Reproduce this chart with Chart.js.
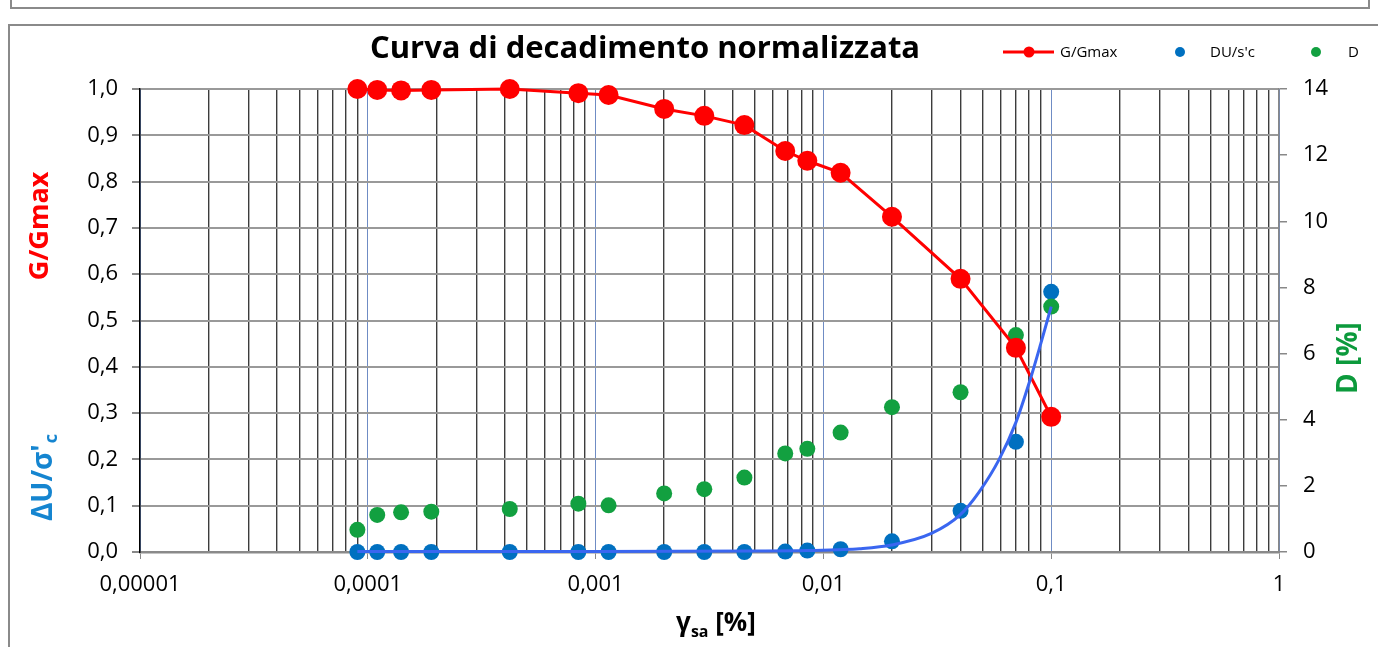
<!DOCTYPE html>
<html><head><meta charset="utf-8">
<script src="https://cdn.jsdelivr.net/npm/chart.js@4.4.1/dist/chart.umd.min.js"></script>
<style>html,body{margin:0;padding:0;background:#fff;overflow:hidden}#wrap{width:1378px;height:647px}</style>
</head><body><div id="wrap"><canvas id="c" width="1378" height="647"></canvas></div>
<script>
// ---- data ----
const gamma  = [0.00009,0.00011,0.00014,0.00019,0.00042,0.00084,0.00114,0.002,0.003,0.0045,0.0068,0.0085,0.0119,0.02,0.04,0.07,0.1];
const gGmax  = [1.000,0.998,0.997,0.998,1.000,0.991,0.987,0.957,0.942,0.922,0.866,0.845,0.819,0.724,0.590,0.441,0.292];
const duSc   = [0,0,0,0,0,0,0,0,0,0,0.001,0.003,0.006,0.023,0.089,0.238,0.562];
const dampD  = [0.67,1.12,1.20,1.22,1.30,1.46,1.41,1.77,1.90,2.25,2.98,3.12,3.61,4.38,4.83,6.56,7.42];
const fitX   = [0.00009,0.001,0.005,0.0085,0.0117,0.0144,0.0199,0.0298,0.0398,0.0483,0.0591,0.070,0.0807,0.090,0.1];
const fitY   = [0.001,0.001,0.002,0.003,0.005,0.007,0.015,0.040,0.080,0.130,0.200,0.280,0.371,0.450,0.530];
const xTickValues = [0.00001,0.0001,0.001,0.01,0.1,1];
const xTickLabels = ['0,00001','0,0001','0,001','0,01','0,1','1'];
const yTickLabels = ['0,0','0,1','0,2','0,3','0,4','0,5','0,6','0,7','0,8','0,9','1,0'];
const dTickLabels = ['0','2','4','6','8','10','12','14'];
const legendLabels = ['G/Gmax',"DU/s'c",'D'];
const titleText = 'Curva di decadimento normalizzata';

// gridline positions for the log axis (1..9 per decade)
const xGrid = [];
for (let d = 0; d < xTickValues.length - 1; d++) {
  for (let m = 1; m <= 9; m++) xGrid.push(m * xTickValues[d]);
}
xGrid.push(xTickValues[xTickValues.length - 1]);
const isDecade = v => xTickValues.some(t => Math.abs(Math.log10(t) - Math.log10(v)) < 1e-6);
const decadeLabel = v => { const i = xTickValues.findIndex(t => Math.abs(Math.log10(t) - Math.log10(v)) < 1e-6); return i >= 0 ? xTickLabels[i] : ''; };

const RED = '#ff0000', BLUE = '#0070c0', GREEN = '#12a040', FIT = '#3a66f0';
const FONT = "'Open Sans', sans-serif";

const decor = {
  id: 'decor',
  beforeDraw(chart) {
    const c = chart.ctx;
    c.save();
    c.fillStyle = '#fff'; c.fillRect(0, 0, chart.width, chart.height);
    c.strokeStyle = '#8a8a8a'; c.lineWidth = 2;
    c.beginPath();
    c.moveTo(11, 0); c.lineTo(11, 8); c.lineTo(1369, 8); c.lineTo(1369, 0);
    c.moveTo(1378, 25); c.lineTo(9, 25); c.lineTo(9, 647);
    c.stroke();
    c.restore();
  },
  afterDraw(chart) {
    const c = chart.ctx;
    c.save();
    // title
    c.fillStyle = '#000'; c.font = 'bold 31px ' + FONT;
    c.textAlign = 'center'; c.textBaseline = 'alphabetic';
    c.fillText(titleText, 645, 58);
    // legend
    c.font = '15px ' + FONT; c.textAlign = 'left'; c.textBaseline = 'middle';
    c.strokeStyle = RED; c.lineWidth = 3;
    c.beginPath(); c.moveTo(1003, 52); c.lineTo(1054, 52); c.stroke();
    c.fillStyle = RED; c.beginPath(); c.arc(1029, 52, 5.5, 0, Math.PI * 2); c.fill();
    c.fillStyle = '#000'; c.fillText(legendLabels[0], 1060, 53);
    c.fillStyle = BLUE; c.beginPath(); c.arc(1180, 52, 5, 0, Math.PI * 2); c.fill();
    c.fillStyle = '#000'; c.fillText(legendLabels[1], 1210, 53);
    c.fillStyle = GREEN; c.beginPath(); c.arc(1316, 52, 5, 0, Math.PI * 2); c.fill();
    c.fillStyle = '#000'; c.fillText(legendLabels[2], 1348, 53);
    // left axis titles
    c.textBaseline = 'alphabetic';
    c.save(); c.translate(48, 226); c.rotate(-Math.PI / 2);
    c.textAlign = 'center'; c.fillStyle = RED; c.font = 'bold 27px ' + FONT;
    c.fillText('G/Gmax', 0, 0); c.restore();
    c.save(); c.translate(52, 478); c.rotate(-Math.PI / 2);
    c.fillStyle = '#1585d0'; c.textAlign = 'left';
    c.font = 'bold 28px ' + FONT; const mainT = "\u0394U/\u03c3'"; const wm = c.measureText(mainT).width;
    c.font = 'bold 18px ' + FONT; const ws = c.measureText('c').width;
    const x0 = -(wm + ws) / 2;
    c.font = 'bold 28px ' + FONT; c.fillText(mainT, x0, 0);
    c.font = 'bold 18px ' + FONT; c.fillText('c', x0 + wm + 1, 5);
    c.restore();
    // right axis title
    c.save(); c.translate(1357, 358); c.rotate(-Math.PI / 2);
    c.textAlign = 'center'; c.fillStyle = '#0c9a3c'; c.font = 'bold 28px ' + FONT;
    c.fillText('D [%]', 0, 0); c.restore();
    // x axis title
    c.fillStyle = '#000'; c.textAlign = 'left';
    c.font = 'bold 26px ' + FONT; const wg = c.measureText('\u03b3').width;
    c.font = 'bold 16px ' + FONT; const wsa = c.measureText('sa').width;
    c.font = 'bold 26px ' + FONT; const wb = c.measureText(' [%]').width;
    let sx = 716 - (wg + wsa + wb) / 2;
    c.fillText('\u03b3', sx, 631);
    c.font = 'bold 16px ' + FONT; c.fillText('sa', sx + wg, 637);
    c.font = 'bold 26px ' + FONT; c.fillText(' [%]', sx + wg + wsa, 631);
    c.restore();
  }
};

const pts = (xs, ys) => xs.map((x, i) => ({ x, y: ys[i] }));

new Chart(document.getElementById('c'), {
  type: 'scatter',
  data: {
    datasets: [
      { label: 'fit', data: pts(fitX, fitY), showLine: true, borderColor: FIT, borderWidth: 3,
        pointRadius: 0, cubicInterpolationMode: 'monotone', yAxisID: 'y', order: 0, clip: false },
      { label: legendLabels[0], data: pts(gamma, gGmax), showLine: true, borderColor: RED, backgroundColor: RED,
        borderWidth: 3, pointRadius: 10, pointBorderWidth: 0, yAxisID: 'y', order: 1, clip: false },
      { label: legendLabels[2], data: pts(gamma, dampD), backgroundColor: GREEN, borderColor: GREEN,
        pointRadius: 8, pointBorderWidth: 0, yAxisID: 'y2', order: 2, clip: false },
      { label: legendLabels[1], data: pts(gamma, duSc), backgroundColor: BLUE, borderColor: BLUE,
        pointRadius: 8, pointBorderWidth: 0, yAxisID: 'y', order: 3, clip: false }
    ]
  },
  options: {
    responsive: false, animation: false, devicePixelRatio: 1,
    layout: { padding: { top: 89, left: 0, right: 0, bottom: 0 } },
    plugins: { legend: { display: false }, tooltip: { enabled: false }, title: { display: false } },
    scales: {
      x: {
        type: 'logarithmic', min: xTickValues[0], max: xTickValues[xTickValues.length - 1], position: 'bottom',
        afterBuildTicks: s => { s.ticks = xGrid.map(v => ({ value: v, major: isDecade(v) })); },
        afterFit: s => { s.height = 95; },
        ticks: { autoSkip: false, maxRotation: 0, minRotation: 0, padding: 13, color: '#000',
          font: { family: FONT, size: 22 }, callback: v => decadeLabel(v) },
        grid: {
          color: ctx => (ctx.tick && isDecade(ctx.tick.value)) ? '#6f8cc4' : '#3c3c3c',
          lineWidth: ctx => (ctx.tick && isDecade(ctx.tick.value)) ? 1 : 1.4,
          tickLength: 7,
          tickColor: ctx => (ctx.tick && isDecade(ctx.tick.value)) ? '#888' : 'rgba(0,0,0,0)'
        },
        border: { color: '#8a8a8a', width: 2.5 }
      },
      y: {
        position: 'left', min: 0, max: 1,
        afterFit: s => { s.width = 140; },
        ticks: { stepSize: 0.1, padding: 14, color: '#000', font: { family: FONT, size: 22 },
          callback: v => yTickLabels[Math.round(v * 10)] },
        grid: { color: '#999', lineWidth: 2, tickLength: 8, tickColor: '#888' },
        border: { color: '#000', width: 1.5 }
      },
      y2: {
        position: 'right', min: 0, max: 14,
        afterFit: s => { s.width = 99; },
        ticks: { stepSize: 2, padding: 16, color: '#000', font: { family: FONT, size: 22 },
          callback: v => dTickLabels[Math.round(v / 2)] },
        grid: { drawOnChartArea: false, tickLength: 8, color: '#888', lineWidth: 1.5 },
        border: { color: '#888', width: 1.5 }
      }
    }
  },
  plugins: [decor]
});
</script>
</body></html>
